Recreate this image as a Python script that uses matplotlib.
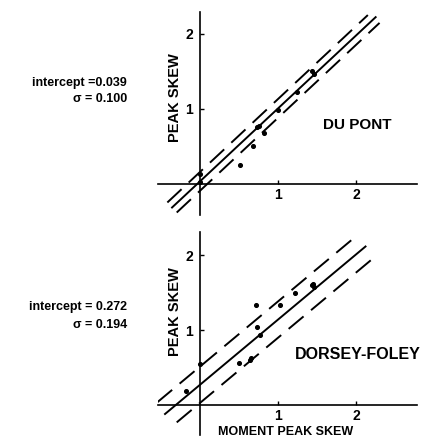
import numpy as np
import matplotlib.pyplot as plt

plt.rcParams['font.family'] = ['Liberation Sans', 'DejaVu Sans']
plt.rcParams['font.weight'] = 'bold'

# Du Pont: moment peak skew vs peak skew
dp_x = [0.0, 0.0, 0.51, 0.68, 0.82, 0.73, 0.76, 1.00, 1.24, 1.43, 1.46]
dp_y = [0.13, 0.03, 0.26, 0.51, 0.68, 0.76, 0.78, 0.99, 1.23, 1.50, 1.47]
dp_intercept, dp_slope, dp_sigma = 0.039, 0.97, 0.100

# Dorsey-Foley
df_x = [-0.18, 0.0, 0.72, 0.73, 0.77, 0.50, 0.64, 0.65, 1.03, 1.22, 1.43, 1.46, 1.45]
df_y = [0.19, 0.55, 1.33, 1.04, 0.93, 0.56, 0.60, 0.63, 1.33, 1.50, 1.60, 1.57, 1.62]
df_intercept, df_slope, df_sigma = 0.272, 0.87, 0.194

W, H = 429, 444
fig = plt.figure(figsize=(W / 100, H / 100), dpi=100)


def make_axes(px_left, px_right, px_top, px_bot, xlim, ylim):
    ax = fig.add_axes([px_left / W, 1 - px_bot / H,
                       (px_right - px_left) / W, (px_bot - px_top) / H])
    ax.set_xlim(*xlim)
    ax.set_ylim(*ylim)
    for s in ['top', 'right']:
        ax.spines[s].set_visible(False)
    ax.spines['left'].set_position(('data', 0))
    ax.spines['bottom'].set_position(('data', 0))
    ax.spines['left'].set_linewidth(1.2)
    ax.spines['bottom'].set_linewidth(1.2)
    ax.set_xticks([1, 2], ['1', '2'])
    ax.set_yticks([1, 2], ['1', '2'])
    ax.tick_params(direction='in', length=3, width=1, labelsize=10)
    ax.tick_params(axis='x', pad=3)
    ax.tick_params(axis='y', pad=5)
    ax.patch.set_alpha(0)
    return ax


def fit_lines(ax, b, m, s, x_solid, x_up, x_lo, band=1.25):
    xs = np.array(x_solid)
    ax.plot(xs, b + m * xs, color='black', lw=1.4)
    xu = np.array(x_up)
    ax.plot(xu, b + band * s + m * xu, color='black', lw=1.4, ls=(0, (10, 5)))
    xl = np.array(x_lo)
    ax.plot(xl, b - band * s + m * xl, color='black', lw=1.4, ls=(0, (10, 5)))


# top panel
ax1 = make_axes(158, 417, 12, 215, (-0.54, 2.78), (-0.41, 2.29))
fit_lines(ax1, dp_intercept, dp_slope, dp_sigma,
          [-0.36, 2.25], [-0.42, 2.15], [-0.30, 2.30])
ax1.scatter(dp_x, dp_y, s=7, color='black', zorder=3)
ax1.text(1.57, 0.79, 'DU PONT', fontsize=11, fontweight='bold', ha='left', va='center')

# bottom panel
ax2 = make_axes(158, 417, 232, 435, (-0.54, 2.78), (-0.40, 2.31))
fit_lines(ax2, df_intercept, df_slope, df_sigma,
          [-0.45, 2.12], [-0.55, 1.95], [-0.30, 2.20])
ax2.scatter(df_x, df_y, s=7, color='black', zorder=3)
ax2.text(1.21, 0.67, 'DORSEY-FOLEY', fontsize=11.5, fontweight='bold', ha='left', va='center')
fig.text(286 / W, 1 - 432 / H, 'MOMENT PEAK SKEW', fontsize=9, fontweight='bold',
         ha='center', va='center')

# axis titles
fig.text(175 / W, 1 - 98 / H, 'PEAK SKEW', rotation=90, fontsize=10.5,
         fontweight='bold', ha='center', va='center')
fig.text(175 / W, 1 - 312 / H, 'PEAK SKEW', rotation=90, fontsize=10.5,
         fontweight='bold', ha='center', va='center')

# fit statistics
fig.text(127 / W, 1 - 83 / H, f'intercept ={dp_intercept:.3f}', fontsize=9,
         fontweight='bold', ha='right', va='center')
fig.text(127 / W, 1 - 99 / H, f'σ = {dp_sigma:.3f}', fontsize=9,
         fontweight='bold', ha='right', va='center')
fig.text(127 / W, 1 - 307 / H, f'intercept = {df_intercept:.3f}', fontsize=9,
         fontweight='bold', ha='right', va='center')
fig.text(127 / W, 1 - 325 / H, f'σ = {df_sigma:.3f}', fontsize=9,
         fontweight='bold', ha='right', va='center')

fig.savefig('out.png', dpi=100)
